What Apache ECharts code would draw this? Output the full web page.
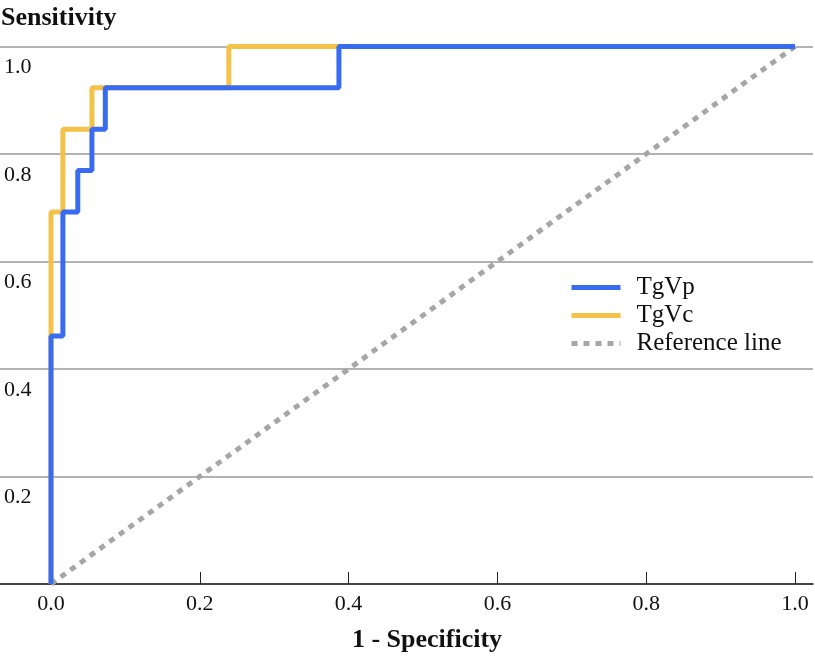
<!DOCTYPE html>
<html>
<head>
<meta charset="utf-8">
<script src="https://cdn.jsdelivr.net/npm/echarts@6/dist/echarts.min.js"></script>
<style>
html,body{margin:0;padding:0;background:#fff;}
#chart{width:815px;height:658px;}
</style>
</head>
<body>
<div id="chart"></div>
<script>
// ROC curve corner points
var tgvpFpr = [0, 0, 0.016, 0.016, 0.036, 0.036, 0.055, 0.055, 0.073, 0.073, 0.387, 0.387, 1];
var tgvpTpr = [0, 0.4615, 0.4615, 0.6923, 0.6923, 0.7692, 0.7692, 0.8462, 0.8462, 0.9231, 0.9231, 1, 1];
var tgvcFpr = [0, 0, 0.016, 0.016, 0.055, 0.055, 0.239, 0.239, 1];
var tgvcTpr = [0, 0.6923, 0.6923, 0.8462, 0.8462, 0.9231, 0.9231, 1, 1];
var refX = [0, 1];
var refY = [0, 1];
var tickValues = [0, 0.2, 0.4, 0.6, 0.8, 1.0];
var seriesNames = ['TgVp', 'TgVc', 'Reference line'];
var xTitle = '1 - Specificity';
var yTitle = 'Sensitivity';

function pairs(xs, ys) { return xs.map(function (x, i) { return [x, ys[i]]; }); }

var FONT = "'Liberation Serif', 'Times New Roman', serif";
var chart = echarts.init(document.getElementById('chart'));
chart.setOption({
  animation: false,
  backgroundColor: '#fff',
  title: {
    text: yTitle,
    left: 1,
    top: 5,
    padding: 0,
    textStyle: { fontFamily: FONT, fontSize: 26, fontWeight: 'bold', color: '#111', lineHeight: 26 }
  },
  grid: { left: 0, right: 2, top: 46.5, bottom: 74, containLabel: false },
  legend: {
    orient: 'vertical',
    left: 569,
    top: 275,
    padding: 0,
    data: seriesNames,
    itemWidth: 49,
    itemHeight: 14,
    itemGap: 3,
    itemStyle: { opacity: 0 },
    lineStyle: { width: 'inherit' },
    textStyle: { fontFamily: FONT, fontSize: 25, color: '#111', lineHeight: 25, padding: [0, 0, 0, 11] }
  },
  xAxis: {
    type: 'value',
    min: -51 / 744,
    max: -51 / 744 + 813 / 744,
    name: xTitle,
    nameLocation: 'middle',
    nameGap: 56,
    nameTextStyle: { fontFamily: FONT, fontSize: 26, fontWeight: 'bold', color: '#111', verticalAlign: 'middle', padding: [0, 0, 0, 41] },
    axisLine: { show: true, onZero: false, lineStyle: { color: '#222', width: 1.5 } },
    axisTick: { show: true, inside: true, length: 12, customValues: tickValues, lineStyle: { color: '#222', width: 1 } },
    axisLabel: {
      customValues: tickValues,
      margin: 9,
      fontFamily: FONT, fontSize: 22, color: '#111',
      formatter: function (v) { return v.toFixed(1); }
    },
    splitLine: { show: false }
  },
  yAxis: {
    type: 'value',
    min: 0, max: 1, interval: 0.2,
    axisLine: { show: false },
    axisTick: { show: false },
    axisLabel: {
      inside: true,
      showMinLabel: false,
      align: 'left',
      verticalAlign: 'top',
      margin: 4,
      padding: [10, 0, 0, 0],
      fontFamily: FONT, fontSize: 22, color: '#111',
      formatter: function (v) { return v.toFixed(1); }
    },
    splitLine: { show: true, lineStyle: { color: '#9a9a9a', width: 1.5 } }
  },
  series: [
    {
      name: seriesNames[2], type: 'line', symbol: 'none', color: '#a6a6a6',
      data: pairs(refX, refY),
      lineStyle: { width: 5, type: [6, 6], color: '#a6a6a6' }, z: 1
    },
    {
      name: seriesNames[1], type: 'line', symbol: 'none', color: '#f4c248',
      data: pairs(tgvcFpr, tgvcTpr),
      lineStyle: { width: 5, color: '#f4c248' }, z: 2
    },
    {
      name: seriesNames[0], type: 'line', symbol: 'none', color: '#396bf0',
      data: pairs(tgvpFpr, tgvpTpr),
      lineStyle: { width: 5, color: '#396bf0' }, z: 3
    }
  ]
});
</script>
</body>
</html>
